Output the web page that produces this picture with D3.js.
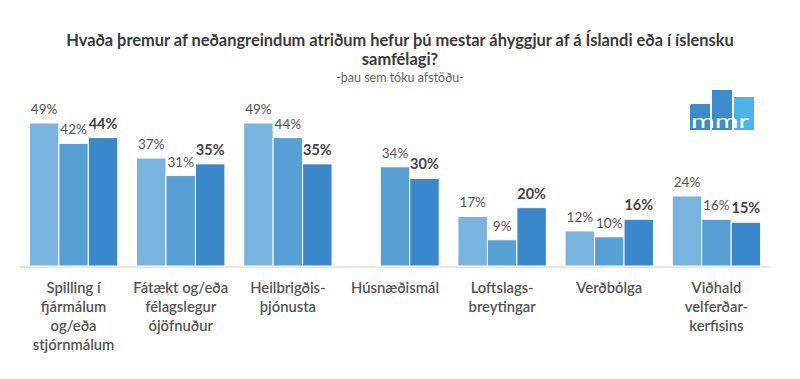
<!DOCTYPE html>
<html>
<head>
<meta charset="utf-8">
<script src="https://cdn.jsdelivr.net/npm/d3@7"></script>
<style>
    body { margin: 0; background: #fff; }
    svg { display: block; font-family: Lato, "Open Sans", sans-serif; }
</style>
</head>
<body>
<div id="chart"></div>
<script>
// data
const categories = [
    'Spilling í fjármálum og/eða stjórnmálum',
    'Fátækt og/eða félagslegur ójöfnuður',
    'Heilbrigðisþjónusta',
    'Húsnæðismál',
    'Loftslagsbreytingar',
    'Verðbólga',
    'Viðhald velferðarkerfisins',
];
const categoryLines = [
    ['Spilling í', 'fjármálum', 'og/eða', 'stjórnmálum'],
    ['Fátækt og/eða', 'félagslegur', 'ójöfnuður'],
    ['Heilbrigðis-', 'þjónusta'],
    ['Húsnæðismál'],
    ['Loftslags-', 'breytingar'],
    ['Verðbólga'],
    ['Viðhald', 'velferðar-', 'kerfisins'],
];
const seriesKeys = ['s1', 's2', 's3'];
const series1 = [49, 37, 49, null, 17, 12, 24];
const series2 = [42, 31, 44, 34, 9, 10, 16];
const series3 = [44, 35, 35, 30, 20, 16, 15];
const seriesValues = [series1, series2, series3];

const titleLines = [
    'Hvaða þremur af neðangreindum atriðum hefur þú mestar áhyggjur af á Íslandi eða í íslensku',
    'samfélagi?',
];
const subtitle = '-þau sem tóku afstöðu-';

const colors = ['#79b4de', '#56a0d4', '#3a87c9'];

const W = 800;
const H = 379;
const baseY = 266;

const svg = d3.select('#chart').append('svg')
    .attr('width', W)
    .attr('height', H);

// title
svg.append('g').selectAll('text')
    .data(titleLines)
    .join('text')
    .attr('x', W / 2)
    .attr('y', (d, i) => 46 + i * 19)
    .attr('text-anchor', 'middle')
    .attr('font-size', 16.4)
    .attr('font-weight', 'bold')
    .attr('fill', '#3a3a3a')
    .text((d) => d);

svg.append('text')
    .attr('x', W / 2)
    .attr('y', 82)
    .attr('text-anchor', 'middle')
    .attr('font-size', 12.5)
    .attr('fill', '#666')
    .text(subtitle);

// scales
const x0 = d3.scaleBand()
    .domain(categories)
    .range([20, 770])
    .paddingInner(0.175)
    .paddingOuter(0.0875);
const x1 = d3.scaleBand()
    .domain(seriesKeys)
    .range([0, x0.bandwidth()]);
const y = d3.scaleLinear()
    .domain([0, 49])
    .range([baseY, 123]);

// axis line
svg.append('line')
    .attr('x1', 20).attr('x2', 770)
    .attr('y1', baseY + 1).attr('y2', baseY + 1)
    .attr('stroke', '#ddd')
    .attr('stroke-width', 1.5);

const rows = [];
categories.forEach((c, i) => {
    seriesKeys.forEach((k, j) => {
        const v = seriesValues[j][i];
        if (v != null) rows.push({ cat: c, key: k, j, value: v });
    });
});

const barG = svg.append('g');
barG.selectAll('rect')
    .data(rows)
    .join('rect')
    .attr('x', (d) => x0(d.cat) + x1(d.key))
    .attr('width', x1.bandwidth())
    .attr('y', (d) => y(d.value))
    .attr('height', (d) => baseY - y(d.value))
    .attr('fill', (d) => colors[d.j])
    .attr('stroke', '#fff')
    .attr('stroke-width', 1);

// value labels
barG.selectAll('text')
    .data(rows)
    .join('text')
    .attr('x', (d) => x0(d.cat) + x1(d.key) + x1.bandwidth() / 2)
    .attr('y', (d) => y(d.value) - 9)
    .attr('text-anchor', 'middle')
    .attr('font-size', (d) => (d.j === 2 ? 14.5 : 13.5))
    .attr('font-weight', (d) => (d.j === 2 ? 'bold' : 'normal'))
    .attr('fill', (d) => (d.j === 2 ? '#444' : '#555'))
    .text((d) => `${d.value}%`);

// category labels
const catG = svg.append('g')
    .selectAll('g')
    .data(categories)
    .join('g')
    .attr('transform', (d) => `translate(${x0(d) + x0.bandwidth() / 2},293)`);
catG.selectAll('text')
    .data((d, i) => categoryLines[i])
    .join('text')
    .attr('y', (d, i) => i * 19)
    .attr('text-anchor', 'middle')
    .attr('font-size', 14.8)
    .attr('font-weight', 600)
    .attr('fill', '#555')
    .text((d) => d);

// mmr logo
const logo = svg.append('g').attr('transform', 'translate(690,90)');
logo.append('path')
    .attr('d', 'M0,16 Q0,14 2,14 L20,14 L20,40 L0,40 Z')
    .attr('fill', '#3c8ccc');
logo.append('rect')
    .attr('x', 22).attr('y', 0).attr('width', 20).attr('height', 40)
    .attr('fill', '#3c8ccc');
logo.append('rect')
    .attr('x', 44).attr('y', 7).attr('width', 20).attr('height', 33)
    .attr('fill', '#4db3e9');
logo.append('text')
    .attr('x', 1).attr('y', 38)
    .attr('font-size', 19)
    .attr('fill', '#fff')
    .attr('textLength', 58)
    .attr('lengthAdjust', 'spacingAndGlyphs')
    .text('mmr');
</script>
</body>
</html>
